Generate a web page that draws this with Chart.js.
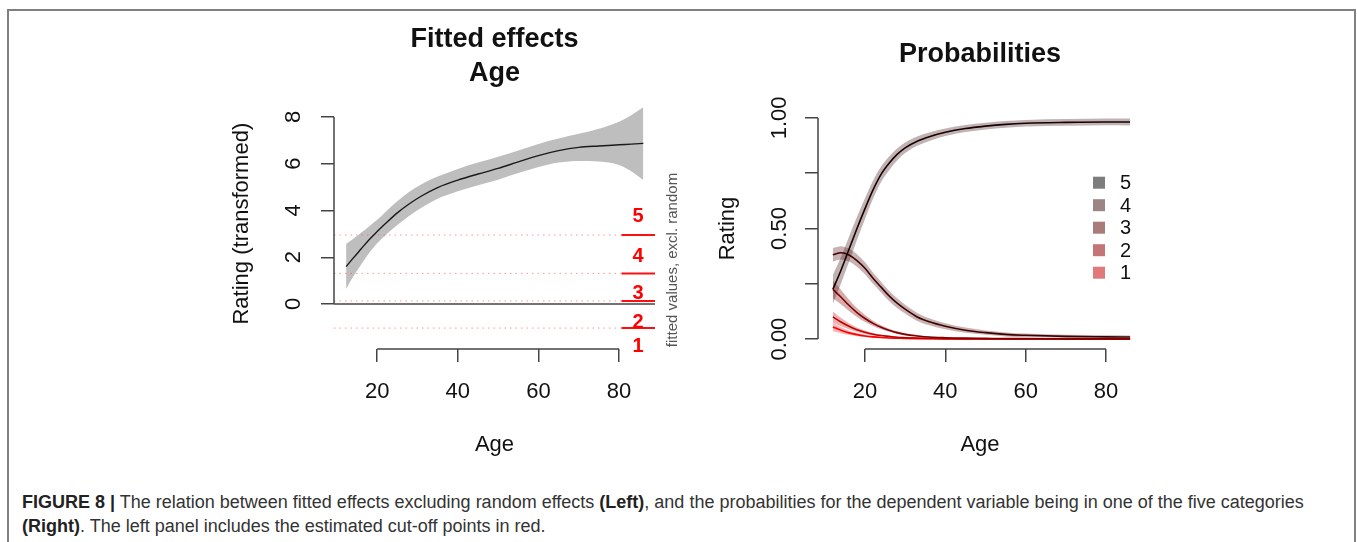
<!DOCTYPE html>
<html><head><meta charset="utf-8">
<script src="https://cdn.jsdelivr.net/npm/chart.js@4/dist/chart.umd.min.js"></script>
<style>
html,body{margin:0;padding:0;background:#fff;}
body{width:1357px;height:542px;position:relative;overflow:hidden;font-family:"Liberation Sans",Arial,sans-serif;}
#frame{position:absolute;left:7px;top:9px;width:1349px;height:600px;border:2px solid #808080;border-bottom:none;box-sizing:border-box;}
#c1{position:absolute;left:0;top:0;}
#c2{position:absolute;left:680px;top:0;}
#cap{position:absolute;left:22px;top:490px;width:1330px;font-size:18px;line-height:24px;color:#333;white-space:nowrap;}
#cap b{color:#222;}
</style></head><body>
<div id="frame"></div>
<canvas id="c1" width="680" height="470"></canvas>
<canvas id="c2" width="677" height="470"></canvas>
<div id="cap"><b>FIGURE 8 |</b> The relation between fitted effects excluding random effects <b>(Left)</b>, and the probabilities for the dependent variable being in one of the five categories<br><b>(Right)</b>. The left panel includes the estimated cut-off points in red.</div>
<script>
// ---------- tick definitions ----------
const ageTicks = [20, 40, 60, 80];
const effTicks = [0, 2, 4, 6, 8];
const effTickLabels = ['0', '2', '4', '6', '8'];
const probTicks = [0, 0.25, 0.5, 0.75, 1];
const probTickLabels = ['0.00', '', '0.50', '', '1.00'];

// ---------- left panel: fitted effect of Age ----------
const fitAges   = [12.3, 14, 16, 18, 20, 22, 25, 28, 31, 35, 40, 45, 50, 55, 60, 65, 70, 75, 80, 83, 86];
const fitValues = [1.60, 1.95, 2.35, 2.75, 3.10, 3.43, 3.90, 4.29, 4.62, 4.98, 5.30, 5.56, 5.80, 6.08, 6.35, 6.56, 6.70, 6.76, 6.81, 6.84, 6.87];
const fitUpper  = [2.57, 2.78, 3.05, 3.32, 3.60, 3.93, 4.40, 4.80, 5.12, 5.45, 5.78, 6.05, 6.30, 6.57, 6.85, 7.08, 7.28, 7.50, 7.80, 8.08, 8.42];
const fitLower  = [0.64, 1.15, 1.68, 2.18, 2.60, 2.93, 3.38, 3.78, 4.12, 4.50, 4.82, 5.08, 5.32, 5.60, 5.86, 6.05, 6.12, 6.10, 5.95, 5.68, 5.30];
const cutoffs    = [-1.03, 0.13, 1.31, 2.95];
const cutLabels  = ['1', '2', '3', '4', '5'];
const cutLabelY  = [-1.81, -0.78, 0.43, 2.04, 3.75];

// ---------- right panel: probabilities ----------
const categories = ['1', '2', '3', '4', '5'];
const probAges = [12, 14, 16, 18, 20, 22, 24, 26, 28, 30, 33, 36, 40, 45, 50, 55, 60, 70, 80, 86];
const p5   = [0.225, 0.310, 0.405, 0.500, 0.590, 0.675, 0.745, 0.795, 0.835, 0.865, 0.895, 0.915, 0.935, 0.952, 0.963, 0.971, 0.976, 0.980, 0.982, 0.982];
const p5Hi = [0.290, 0.370, 0.462, 0.552, 0.637, 0.716, 0.780, 0.826, 0.862, 0.889, 0.916, 0.934, 0.952, 0.968, 0.978, 0.986, 0.991, 0.995, 0.997, 0.998];
const p5Lo = [0.160, 0.250, 0.348, 0.448, 0.543, 0.634, 0.710, 0.764, 0.808, 0.841, 0.874, 0.896, 0.918, 0.936, 0.948, 0.956, 0.961, 0.965, 0.967, 0.966];
const p4   = [0.381, 0.390, 0.380, 0.355, 0.320, 0.275, 0.235, 0.195, 0.162, 0.135, 0.100, 0.078, 0.058, 0.040, 0.029, 0.021, 0.017, 0.012, 0.010, 0.009];
const p4Hi = [0.412, 0.420, 0.409, 0.383, 0.347, 0.300, 0.259, 0.218, 0.184, 0.155, 0.118, 0.094, 0.072, 0.052, 0.039, 0.030, 0.025, 0.019, 0.017, 0.016];
const p4Lo = [0.350, 0.360, 0.351, 0.327, 0.293, 0.250, 0.211, 0.172, 0.140, 0.115, 0.082, 0.062, 0.044, 0.028, 0.019, 0.012, 0.009, 0.005, 0.003, 0.002];
const p3   = [0.225, 0.190, 0.153, 0.120, 0.093, 0.071, 0.053, 0.040, 0.029, 0.021, 0.014, 0.009, 0.006, 0.004, 0.003, 0.002, 0.002, 0.001, 0.001, 0.001];
const p3Hi = [0.265, 0.223, 0.179, 0.140, 0.109, 0.083, 0.062, 0.047, 0.035, 0.026, 0.018, 0.012, 0.008, 0.006, 0.004, 0.003, 0.003, 0.002, 0.002, 0.002];
const p3Lo = [0.185, 0.157, 0.127, 0.100, 0.077, 0.059, 0.044, 0.033, 0.023, 0.016, 0.010, 0.006, 0.004, 0.002, 0.002, 0.001, 0.001, 0.000, 0.000, 0.000];
const p2   = [0.100, 0.077, 0.058, 0.042, 0.031, 0.022, 0.016, 0.012, 0.008, 0.006, 0.004, 0.003, 0.002, 0.001, 0.001, 0.001, 0.000, 0.000, 0.000, 0.000];
const p2Hi = [0.125, 0.096, 0.072, 0.052, 0.039, 0.028, 0.020, 0.015, 0.010, 0.008, 0.005, 0.004, 0.003, 0.002, 0.002, 0.001, 0.001, 0.001, 0.001, 0.001];
const p2Lo = [0.075, 0.058, 0.044, 0.032, 0.023, 0.016, 0.012, 0.009, 0.006, 0.004, 0.003, 0.002, 0.001, 0.000, 0.000, 0.000, 0.000, 0.000, 0.000, 0.000];
const p1   = [0.055, 0.040, 0.028, 0.020, 0.014, 0.010, 0.007, 0.005, 0.004, 0.003, 0.002, 0.0015, 0.001, 0.001, 0.000, 0.000, 0.000, 0.000, 0.000, 0.000];
const p1Hi = [0.075, 0.054, 0.038, 0.027, 0.019, 0.014, 0.010, 0.007, 0.006, 0.004, 0.003, 0.002, 0.002, 0.001, 0.001, 0.001, 0.001, 0.001, 0.001, 0.001];
const p1Lo = [0.035, 0.026, 0.018, 0.013, 0.009, 0.006, 0.004, 0.003, 0.002, 0.002, 0.001, 0.001, 0.000, 0.000, 0.000, 0.000, 0.000, 0.000, 0.000, 0.000];

// ---------- styles ----------
const FONT = '"Liberation Sans", Arial, Helvetica, sans-serif';
Chart.defaults.font.family = FONT;
Chart.defaults.color = '#111';
const AXIS = '#444';
const lineCols   = ['#ff0000', '#bf0000', '#7f0000', '#3f0000', '#1a0000'];
const ribbonCols = ['rgba(255,0,0,0.28)', 'rgba(191,0,0,0.3)', 'rgba(127,0,0,0.32)', 'rgba(80,20,20,0.32)', 'rgba(60,20,20,0.32)'];
const legendCols = ['#e07a7a', '#c47575', '#a97b7b', '#9b8585', '#7d7d7d'];

const pts = (xs, ys) => xs.map((x, i) => ({x, y: ys[i]}));

// R-style axes: lines from first to last tick, rotated y tick labels, extra text
const rAxes = {
  id: 'rAxes',
  afterDraw(chart, args, o) {
    const ctx = chart.ctx, xs = chart.scales.x, ys = chart.scales.y, ca = chart.chartArea;
    ctx.save();
    ctx.strokeStyle = AXIS; ctx.lineWidth = 1.5;
    ctx.beginPath();
    ctx.moveTo(xs.getPixelForValue(o.xTicks[0]), ca.bottom);
    ctx.lineTo(xs.getPixelForValue(o.xTicks[o.xTicks.length - 1]), ca.bottom);
    ctx.moveTo(ca.left, ys.getPixelForValue(o.yTicks[0]));
    ctx.lineTo(ca.left, ys.getPixelForValue(o.yTicks[o.yTicks.length - 1]));
    ctx.stroke();
    ctx.fillStyle = '#111';
    ctx.font = '22px ' + FONT;
    ctx.textAlign = 'center'; ctx.textBaseline = 'middle';
    o.yLabels.forEach((lab, i) => {
      if (!lab) return;
      ctx.save();
      ctx.translate(ca.left - o.yLabelOffset, ys.getPixelForValue(o.yTicks[i]));
      ctx.rotate(-Math.PI / 2);
      ctx.fillText(lab, 0, 0);
      ctx.restore();
    });
    if (o.cut) {
      ctx.fillStyle = '#ff0000';
      ctx.font = 'bold 20px ' + FONT;
      cutLabels.forEach((lab, i) => {
        ctx.fillText(lab, xs.getPixelForValue(84.7), ys.getPixelForValue(cutLabelY[i]));
      });
      ctx.save();
      ctx.fillStyle = '#555';
      ctx.font = '15px ' + FONT;
      ctx.translate(ca.right + 18, 260);
      ctx.rotate(-Math.PI / 2);
      ctx.fillText('fitted values, excl. random', 0, 0);
      ctx.restore();
    }
    if (o.legend) {
      ctx.font = '20px ' + FONT;
      ctx.textAlign = 'left';
      for (let k = categories.length - 1, j = 0; k >= 0; k--, j++) {
        const y = 182.7 + j * 22.5;
        ctx.fillStyle = legendCols[k];
        ctx.fillRect(413, y - 6, 12, 12);
        ctx.fillStyle = '#111';
        ctx.fillText(categories[k], 440, y + 1);
      }
    }
    ctx.restore();
  }
};

function xScale(min, max) {
  return {
    type: 'linear', min, max,
    afterBuildTicks: s => { s.ticks = ageTicks.map(v => ({value: v})); },
    afterFit: s => { s.height = 110; },
    grid: {display: true, drawOnChartArea: false, drawTicks: true, tickLength: 13, color: AXIS, lineWidth: 1.5},
    border: {display: false},
    ticks: {font: {size: 22}, color: '#111', padding: 17, maxRotation: 0},
    title: {display: true, text: 'Age', font: {size: 22}, color: '#111', padding: {top: 0, bottom: 1}}
  };
}
function yScale(min, max, ticks, width, title, titlePad) {
  return {
    type: 'linear', min, max,
    afterBuildTicks: s => { s.ticks = ticks.map(v => ({value: v})); },
    afterFit: s => { s.width = width; },
    grid: {display: true, drawOnChartArea: false, drawTicks: true, tickLength: 13, color: AXIS, lineWidth: 1.5},
    border: {display: false},
    ticks: {display: false},
    title: {display: true, text: title, font: {size: 22}, color: '#111', padding: {top: titlePad, bottom: 0}}
  };
}

const common = {
  responsive: false, animation: false, devicePixelRatio: 1,
  elements: {point: {radius: 0}, line: {cubicInterpolationMode: 'monotone'}},
  plugins: {legend: {display: false}, tooltip: {enabled: false}}
};

// ---------- left chart ----------
const XL_MIN = 9.3, XL_MAX = 88.9;
const leftSets = [
  {data: pts(fitAges, fitUpper), borderWidth: 0, backgroundColor: '#bebebe', fill: '+1', order: 6},
  {data: pts(fitAges, fitLower), borderWidth: 0, fill: false, order: 7},
  {data: pts(fitAges, fitValues), borderColor: '#1a1a1a', borderWidth: 1.4, fill: false, order: 0},
  {data: [{x: XL_MIN, y: 0}, {x: XL_MAX, y: 0}], borderColor: AXIS, borderWidth: 1.5, fill: false, order: 1}
];
cutoffs.forEach(c => {
  leftSets.push({data: [{x: XL_MIN, y: c}, {x: 80.6, y: c}], borderColor: 'rgba(255,60,60,0.55)', borderWidth: 1, borderDash: [1.5, 4], fill: false, order: 3});
  leftSets.push({data: [{x: 80.6, y: c}, {x: XL_MAX, y: c}], borderColor: '#ff1010', borderWidth: 2, fill: false, order: 2});
});

new Chart(document.getElementById('c1'), {
  type: 'line',
  data: {datasets: leftSets},
  options: Object.assign({}, common, {
    layout: {padding: {left: 220, right: 25, top: 0, bottom: 11}},
    scales: {
      x: xScale(XL_MIN, XL_MAX),
      y: yScale(-1.925, 8.8, effTicks, 114, 'Rating (transformed)', 8.8)
    },
    plugins: Object.assign({}, common.plugins, {
      title: {display: true, fullSize: false, text: ['Fitted effects', 'Age'], color: '#111',
              font: {size: 27, weight: 'bold', lineHeight: 34 / 27}, padding: {top: 23, bottom: 7.3}},
      rAxes: {xTicks: ageTicks, yTicks: effTicks, yLabels: effTickLabels, yLabelOffset: 40.5, cut: true}
    })
  }),
  plugins: [rAxes]
});

// ---------- right chart ----------
const probSeries = [[p1, p1Lo, p1Hi], [p2, p2Lo, p2Hi], [p3, p3Lo, p3Hi], [p4, p4Lo, p4Hi], [p5, p5Lo, p5Hi]];
const rightSets = [];
probSeries.forEach((s, k) => {
  rightSets.push({data: pts(probAges, s[2]), borderWidth: 0, backgroundColor: ribbonCols[k], fill: '+1', order: 20 - k * 2});
  rightSets.push({data: pts(probAges, s[1]), borderWidth: 0, fill: false, order: 21 - k * 2});
});
probSeries.forEach((s, k) => {
  rightSets.push({data: pts(probAges, s[0]), borderColor: lineCols[k], borderWidth: 1.6, fill: false, order: 5 - k});
});

new Chart(document.getElementById('c2'), {
  type: 'line',
  data: {datasets: rightSets},
  options: Object.assign({}, common, {
    layout: {padding: {left: 20, right: 215, top: 0, bottom: 11}},
    scales: {
      x: xScale(8.3, 88.96),
      y: yScale(-0.045, 1.045, probTicks, 118, 'Rating', 14.8)
    },
    plugins: Object.assign({}, common.plugins, {
      title: {display: true, fullSize: false, text: 'Probabilities', color: '#111',
              font: {size: 27, weight: 'bold', lineHeight: 34 / 27}, padding: {top: 38, bottom: 36}},
      rAxes: {xTicks: ageTicks, yTicks: probTicks, yLabels: probTickLabels, yLabelOffset: 38, legend: true}
    })
  }),
  plugins: [rAxes]
});
</script>
</body></html>
